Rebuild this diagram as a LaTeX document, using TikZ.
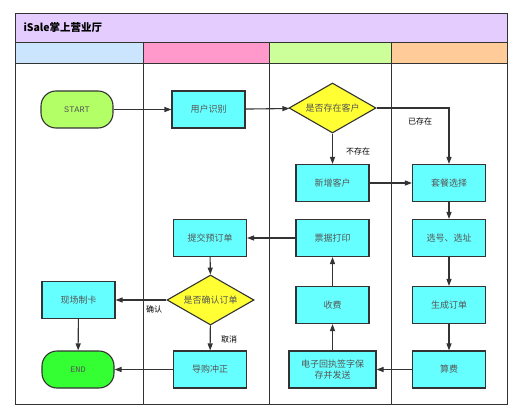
\documentclass[tikz,border=0pt]{standalone}
\usepackage{fontspec}
\setmainfont{Noto Sans CJK SC}
\newfontfamily\termfont{Liberation Mono}
\usetikzlibrary{shapes.geometric,arrows.meta}
\definecolor{titlebg}{HTML}{E5CCFF}
\definecolor{laneA}{HTML}{CCE5FF}
\definecolor{laneB}{HTML}{FF99CC}
\definecolor{laneC}{HTML}{CCFF99}
\definecolor{laneD}{HTML}{FFCC99}
\definecolor{boxfill}{HTML}{66FFFF}
\definecolor{choicefill}{HTML}{FFFF33}
\definecolor{startfill}{HTML}{B3FF66}
\definecolor{endfill}{HTML}{33FF33}
\definecolor{linecol}{HTML}{333333}
\definecolor{textcol}{HTML}{555555}
\tikzset{
  frame/.style={draw=linecol,line width=0.9pt},
  box/.style={rectangle,draw=linecol,line width=1.1pt,fill=boxfill,minimum width=73pt,minimum height=37pt,
    font=\fontsize{9}{11}\selectfont,text=textcol,align=center,inner sep=1pt},
  choice/.style={diamond,draw=linecol,line width=1.1pt,fill=choicefill,minimum width=87pt,minimum height=50pt,
    aspect=1.74,inner sep=0pt,font=\fontsize{9}{11}\selectfont,text=textcol},
  term/.style={rectangle,rounded corners=15pt,draw=linecol,line width=1.1pt,minimum width=72pt,minimum height=37pt,
    font=\termfont\fontsize{8.5}{10}\selectfont,text=textcol},
  lbl/.style={font=\fontsize{8}{10}\selectfont,text=black,inner sep=0pt}
}
\begin{document}
\begin{tikzpicture}[x=1pt,y=-1pt]
    \useasboundingbox (0,0) rectangle (526,419);
    % lanes
    \draw[frame,fill=titlebg] (15,13) rectangle (507,42);
    \node[anchor=west,font=\bfseries\fontsize{10.5}{12}\selectfont] (title) at (20,27.5) {iSale掌上营业厅};
    \draw[frame,fill=laneA] (15,42) rectangle (143,63);
    \draw[frame,fill=laneB] (143,42) rectangle (269,63);
    \draw[frame,fill=laneC] (269,42) rectangle (391,63);
    \draw[frame,fill=laneD] (391,42) rectangle (507,63);
    \draw[frame] (15,63) rectangle (507,404);
    \draw[frame] (143,63) -- (143,404)
                 (269,63) -- (269,404)
                 (391,63) -- (391,404);
    \begin{scope}
    \node[term,fill=startfill] (start) at (77,109.5) {START};
    \node[box] (ident) at (208.5,109.5) {用户识别};
    \node[choice] (exist) at (332.5,108) {是否存在客户};
    \node[box] (newc) at (332.5,183) {新增客户};
    \node[box] (plan) at (449,183) {套餐选择};
    \node[box] (submit) at (210,238) {提交预订单};
    \node[box] (print) at (332.5,238) {票据打印};
    \node[box] (pick) at (449,238) {选号、选址};
    \node[box] (card) at (78.5,300) {现场制卡};
    \node[choice] (confirm) at (210.5,300) {是否确认订单};
    \node[box] (pay) at (332.5,305) {收费};
    \node[box] (order) at (449,305) {生成订单};
    \node[term,fill=endfill] (end) at (78,369.5) {END};
    \node[box] (undo) at (210,369.5) {导购冲正};
    \node[box,minimum width=87pt] (receipt) at (332.5,369.5) {电子回执签字保\\存并发送};
    \node[box] (fee) at (449,369.5) {算费};
    \end{scope}
    \begin{scope}[every edge/.style={draw=linecol,line width=1.1pt,-{Triangle[length=7pt,width=5pt]}}]
    \path (start) edge (ident)
          (ident) edge (exist)
          (exist) edge (newc)
          (newc) edge (plan)
          (plan) edge (pick)
          (pick) edge (order)
          (order) edge (fee)
          (fee) edge (receipt)
          (receipt) edge (pay)
          (pay) edge (print)
          (print) edge (submit)
          (submit) edge (confirm)
          (confirm) edge (card)
          (confirm) edge (undo)
          (undo) edge (end)
          (card) edge (end);
    \end{scope}
    \draw[draw=linecol,line width=1.1pt,-{Triangle[length=7pt,width=5pt]}] (exist.east) -| (plan.north);
    % labels
    \node[lbl] (yes1) at (420,121) {已存在};
    \node[lbl] (no1) at (358,151) {不存在};
    \node[lbl] (yes2) at (154,309) {确认};
    \node[lbl] (no2) at (229,339) {取消};
\end{tikzpicture}
\end{document}
